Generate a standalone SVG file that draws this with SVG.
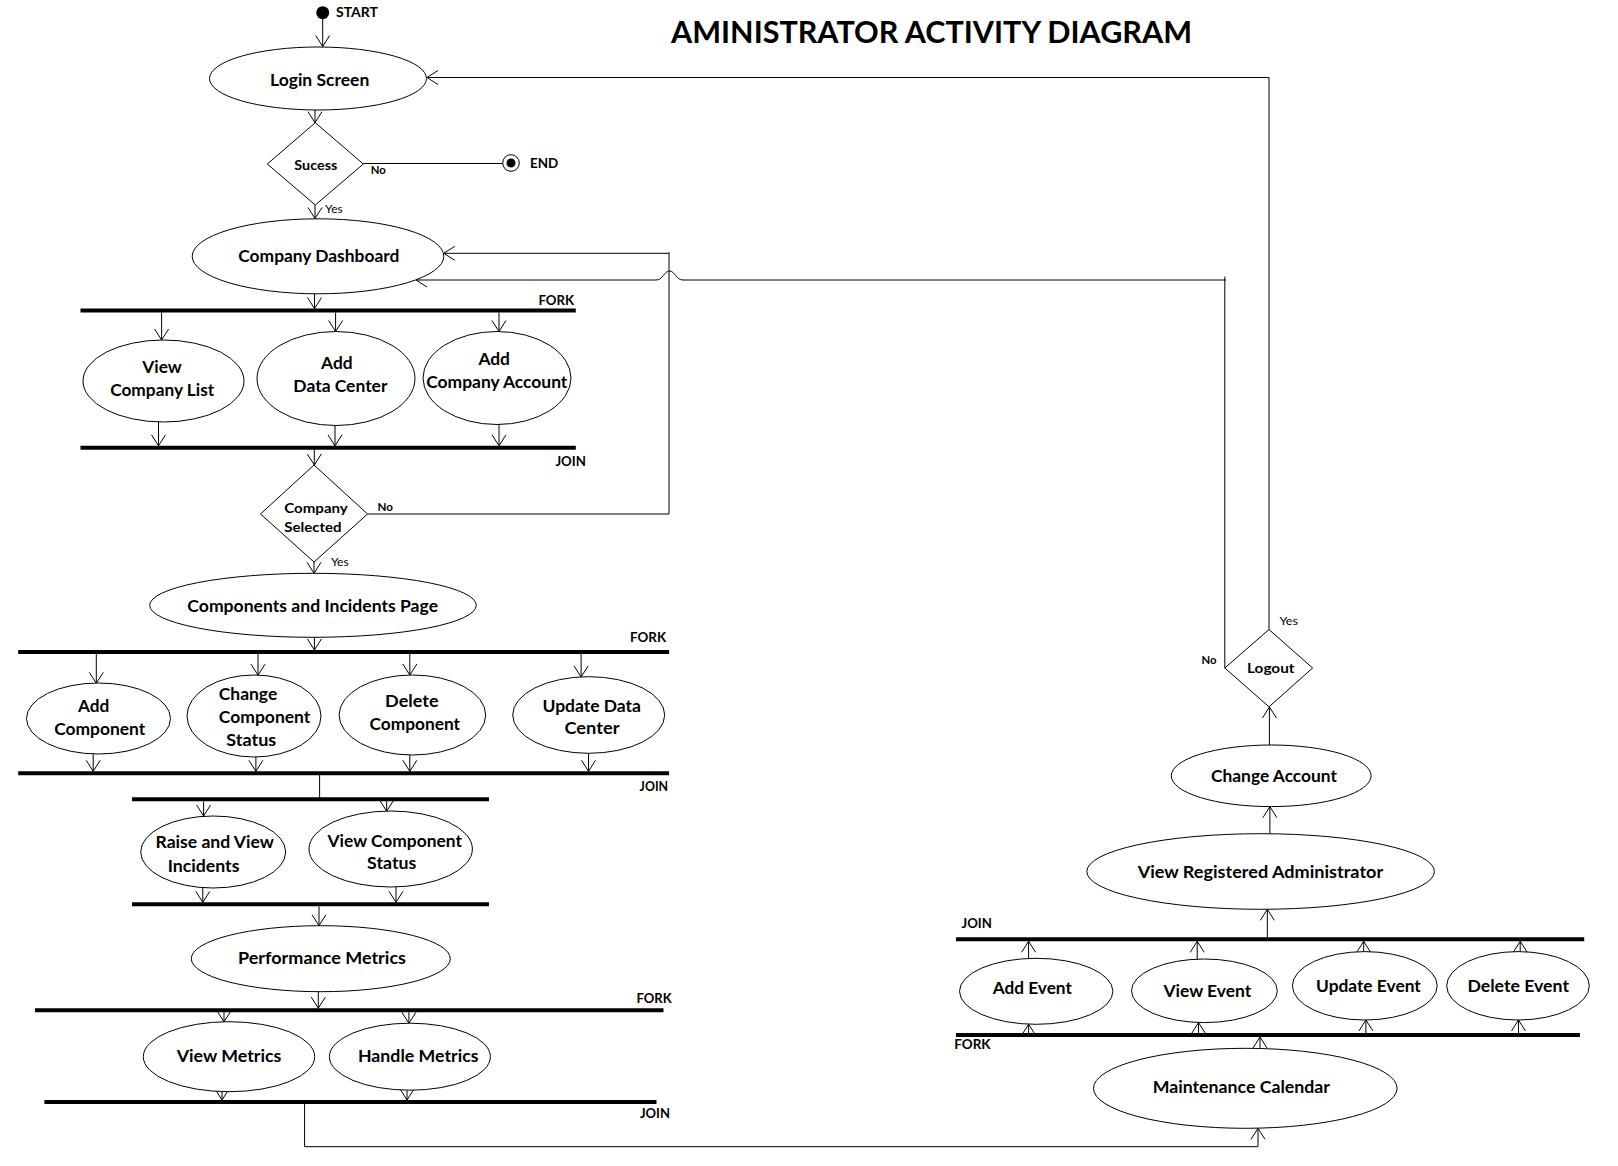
<svg xmlns="http://www.w3.org/2000/svg" width="1618" height="1166" viewBox="0 0 1618 1166">
<style>
text{font-family:Lato,"Open Sans","Liberation Sans",sans-serif;font-weight:700;fill:#000}
.l{font-size:17.5px;text-anchor:middle}
.s{font-size:13.5px;text-anchor:middle}
.k{font-size:14px}
.y{font-size:11px;font-weight:400}
.n{font-size:11.5px}
ellipse,polygon{fill:#fff;stroke:#000;stroke-width:1}
.bar{stroke:#000;stroke-width:4}
#connectors path{fill:none;stroke:#000;stroke-width:1}
.a{marker-end:url(#arr)}
</style>
<defs>
<marker id="arr" markerUnits="userSpaceOnUse" markerWidth="14" markerHeight="16" viewBox="0 0 14 16" refX="12" refY="8" orient="auto"><path d="M1,1 L12,8 L1,15" fill="none" stroke="#000" stroke-width="1"/></marker>
</defs>
<rect width="1618" height="1166" fill="#fff"/>
<text x="931.5" y="43" style="font-size:30px;text-anchor:middle" textLength="521" lengthAdjust="spacingAndGlyphs">AMINISTRATOR ACTIVITY DIAGRAM</text>

<g id="connectors">
<path class="a" d="M322.7,19 V46.5"/>
<path class="a" d="M315,110 V122.7"/>
<path d="M363.3,163.5 H502.7"/>
<path class="a" d="M315,205 V218.5"/>
<path class="a" d="M314.5,294 V308.6"/>
<path class="a" d="M161.6,312.6 V340"/>
<path class="a" d="M335.6,312.6 V331.5"/>
<path class="a" d="M499,312.6 V331.5"/>
<path class="a" d="M158.5,421.5 V445.8"/>
<path class="a" d="M335,425.5 V445.8"/>
<path class="a" d="M499,424.5 V445.8"/>
<path class="a" d="M314.3,449.8 V465"/>
<path class="a" d="M367.6,514 H669 V252.3 M669,253.3 H443.8"/>
<path class="a" d="M314,562 V573.3"/>
<path class="a" d="M314.4,637.3 V650"/>
<path class="a" d="M96.3,654 V683.3"/>
<path class="a" d="M258,654 V675.2"/>
<path class="a" d="M409.8,654 V675"/>
<path class="a" d="M581.1,654 V677"/>
<path class="a" d="M93.2,753.8 V771.3"/>
<path class="a" d="M255.9,756.8 V771.3"/>
<path class="a" d="M409.8,755 V771.3"/>
<path class="a" d="M588.5,753.3 V771.3"/>
<path d="M319.6,775 V797.5"/>
<path class="a" d="M203.6,801.3 V816"/>
<path class="a" d="M386.7,801.3 V811.2"/>
<path class="a" d="M202.8,888 V902.3"/>
<path class="a" d="M396,886.8 V902.3"/>
<path class="a" d="M319,906.3 V925.7"/>
<path class="a" d="M318.3,991.7 V1008.2"/>
<path class="a" d="M224,1012.2 V1021.8"/>
<path class="a" d="M408.9,1012.2 V1023.3"/>
<path class="a" d="M222,1091.6 V1100"/>
<path class="a" d="M407,1090.2 V1100"/>
<path class="a" d="M304.6,1104 V1146.7 H1258 V1128.3"/>
<path class="a" d="M1260,1048.3 V1037"/>
<path class="a" d="M1028.6,1033 V1024.3"/>
<path class="a" d="M1198.5,1033 V1022.6"/>
<path class="a" d="M1365.9,1033 V1020"/>
<path class="a" d="M1518.5,1033 V1020"/>
<path class="a" d="M1028.6,958.3 V941.3"/>
<path class="a" d="M1197.2,959 V941.3"/>
<path class="a" d="M1363.7,951.6 V941.3"/>
<path class="a" d="M1520.2,951.6 V941.3"/>
<path class="a" d="M1267.3,937.3 V909.3"/>
<path class="a" d="M1269.9,833.6 V806.7"/>
<path class="a" d="M1269.4,745 V707"/>
<path class="a" d="M1269,629.5 V77.5 H427"/>
<path class="a" d="M1224.8,668 V276.5 M1226,280 H683 C676,280 675,271 669.5,271 C664,271 663,280 656,280 H416"/>
</g>

<g id="start"><circle cx="322.7" cy="12.7" r="6.5" fill="#000"/><text class="k" x="336" y="17.3" textLength="42" lengthAdjust="spacingAndGlyphs">START</text></g>
<g id="end"><circle cx="511" cy="163" r="8.3" fill="#fff" stroke="#000"/><circle cx="511" cy="163" r="4.5" fill="#000"/><text class="k" x="530" y="167.7" textLength="28.3" lengthAdjust="spacingAndGlyphs">END</text></g>

<g id="login"><ellipse cx="318" cy="78.5" rx="108.5" ry="31.5"/><text class="l" x="319.7" y="86" textLength="99.3" lengthAdjust="spacingAndGlyphs">Login Screen</text></g>
<g id="sucess"><polygon points="315.3,122.7 363.3,164 315.3,205 267.3,164"/><text class="s" x="315.8" y="170" textLength="43" lengthAdjust="spacingAndGlyphs">Sucess</text>
<text class="n" x="370.7" y="174" textLength="15" lengthAdjust="spacingAndGlyphs">No</text><text class="y" x="325" y="213.3" textLength="17.7" lengthAdjust="spacingAndGlyphs">Yes</text></g>
<g id="dashboard"><ellipse cx="318" cy="256.3" rx="125.8" ry="37.5"/><text class="l" x="318.8" y="261.7" textLength="161" lengthAdjust="spacingAndGlyphs">Company Dashboard</text></g>

<g id="fork1"><line class="bar" x1="80.5" y1="310.6" x2="575.8" y2="310.6"/><text class="k" x="538.4" y="305" textLength="35.6" lengthAdjust="spacingAndGlyphs">FORK</text></g>
<g id="viewCompanyList"><ellipse cx="163.5" cy="381" rx="80.5" ry="41"/><text class="l" x="162" y="373.3" textLength="39.5" lengthAdjust="spacingAndGlyphs">View</text><text class="l" x="162.2" y="396" textLength="104" lengthAdjust="spacingAndGlyphs">Company List</text></g>
<g id="addDataCenter"><ellipse cx="336" cy="378.5" rx="79" ry="47"/><text class="l" x="336.8" y="368.7" textLength="31.6" lengthAdjust="spacingAndGlyphs">Add</text><text class="l" x="340.4" y="391.7" textLength="94.1" lengthAdjust="spacingAndGlyphs">Data Center</text></g>
<g id="addCompanyAccount"><ellipse cx="497" cy="378" rx="74" ry="46.5"/><text class="l" x="494.2" y="365" textLength="31.6" lengthAdjust="spacingAndGlyphs">Add</text><text class="l" x="496.8" y="387.7" textLength="141.1" lengthAdjust="spacingAndGlyphs">Company Account</text></g>
<g id="join1"><line class="bar" x1="80.5" y1="447.8" x2="575.8" y2="447.8"/><text class="k" x="555.4" y="466" textLength="30.5" lengthAdjust="spacingAndGlyphs">JOIN</text></g>

<g id="companySelected"><polygon points="314,465 367.6,514 314,562 260.5,514"/><text class="s" x="316" y="513.3" textLength="63.7" lengthAdjust="spacingAndGlyphs">Company</text><text class="s" x="312.9" y="531.7" textLength="57.3" lengthAdjust="spacingAndGlyphs">Selected</text>
<text class="n" x="377.5" y="510.7" textLength="15.4" lengthAdjust="spacingAndGlyphs">No</text><text class="y" x="330.9" y="566" textLength="17.8" lengthAdjust="spacingAndGlyphs">Yes</text></g>
<g id="componentsPage"><ellipse cx="313" cy="605.3" rx="163.3" ry="32"/><text class="l" x="312.7" y="611.7" textLength="250.7" lengthAdjust="spacingAndGlyphs">Components and Incidents Page</text></g>

<g id="fork2"><line class="bar" x1="18.2" y1="652" x2="669.1" y2="652"/><text class="k" x="630.1" y="641.7" textLength="36" lengthAdjust="spacingAndGlyphs">FORK</text></g>
<g id="addComponent"><ellipse cx="98.5" cy="718.5" rx="72" ry="35.5"/><text class="l" x="93.7" y="711.7" textLength="31.3" lengthAdjust="spacingAndGlyphs">Add</text><text class="l" x="99.7" y="735" textLength="91" lengthAdjust="spacingAndGlyphs">Component</text></g>
<g id="changeComponentStatus"><ellipse cx="254" cy="716" rx="67" ry="41"/><text class="l" x="248" y="700" textLength="58.5" lengthAdjust="spacingAndGlyphs">Change</text><text class="l" x="264.6" y="722.7" textLength="91.5" lengthAdjust="spacingAndGlyphs">Component</text><text class="l" x="251.3" y="745.7" textLength="50" lengthAdjust="spacingAndGlyphs">Status</text></g>
<g id="deleteComponent"><ellipse cx="412.4" cy="715" rx="73.3" ry="40"/><text class="l" x="411.8" y="707.3" textLength="53.4" lengthAdjust="spacingAndGlyphs">Delete</text><text class="l" x="414.8" y="730" textLength="90.5" lengthAdjust="spacingAndGlyphs">Component</text></g>
<g id="updateDataCenter"><ellipse cx="588.7" cy="715" rx="76" ry="38.3"/><text class="l" x="591.7" y="711.7" textLength="98.5" lengthAdjust="spacingAndGlyphs">Update Data</text><text class="l" x="592" y="734" textLength="55" lengthAdjust="spacingAndGlyphs">Center</text></g>
<g id="join2"><line class="bar" x1="18.2" y1="773.3" x2="669.1" y2="773.3"/><text class="k" x="639.6" y="791" textLength="28.5" lengthAdjust="spacingAndGlyphs">JOIN</text></g>

<g id="fork3"><line class="bar" x1="132" y1="799.3" x2="489" y2="799.3"/></g>
<g id="raiseViewIncidents"><ellipse cx="213.2" cy="852" rx="72.5" ry="36"/><text class="l" x="214.7" y="848.3" textLength="118.4" lengthAdjust="spacingAndGlyphs">Raise and View</text><text class="l" x="203.6" y="871.7" textLength="71.8" lengthAdjust="spacingAndGlyphs">Incidents</text></g>
<g id="viewComponentStatus"><ellipse cx="390.7" cy="849" rx="81.7" ry="38"/><text class="l" x="394.7" y="846.7" textLength="134.3" lengthAdjust="spacingAndGlyphs">View Component</text><text class="l" x="391.7" y="869.3" textLength="49.2" lengthAdjust="spacingAndGlyphs">Status</text></g>
<g id="join3"><line class="bar" x1="132" y1="904.3" x2="489" y2="904.3"/></g>

<g id="performanceMetrics"><ellipse cx="320.8" cy="958.7" rx="129.5" ry="33"/><text class="l" x="322" y="964" textLength="168" lengthAdjust="spacingAndGlyphs">Performance Metrics</text></g>
<g id="fork4"><line class="bar" x1="35" y1="1010.2" x2="663.5" y2="1010.2"/><text class="k" x="636.4" y="1002.7" textLength="35.2" lengthAdjust="spacingAndGlyphs">FORK</text></g>
<g id="viewMetrics"><ellipse cx="229" cy="1056.7" rx="85.7" ry="35"/><text class="l" x="229" y="1061.7" textLength="104.7" lengthAdjust="spacingAndGlyphs">View Metrics</text></g>
<g id="handleMetrics"><ellipse cx="409.9" cy="1056.7" rx="80.5" ry="33.5"/><text class="l" x="418.2" y="1061.7" textLength="120.6" lengthAdjust="spacingAndGlyphs">Handle Metrics</text></g>
<g id="join4"><line class="bar" x1="44.4" y1="1102" x2="656.5" y2="1102"/><text class="k" x="640" y="1118.3" textLength="30" lengthAdjust="spacingAndGlyphs">JOIN</text></g>

<g id="maintenanceCalendar"><ellipse cx="1245.3" cy="1088.3" rx="151.8" ry="40"/><text class="l" x="1241.3" y="1093.3" textLength="177.3" lengthAdjust="spacingAndGlyphs">Maintenance Calendar</text></g>
<g id="fork5"><line class="bar" x1="956" y1="1035" x2="1579.9" y2="1035"/><text class="k" x="954.3" y="1049.3" textLength="36.3" lengthAdjust="spacingAndGlyphs">FORK</text></g>
<g id="addEvent"><ellipse cx="1036.2" cy="991.3" rx="76.7" ry="33"/><text class="l" x="1032.3" y="994.3" textLength="79.1" lengthAdjust="spacingAndGlyphs">Add Event</text></g>
<g id="viewEvent"><ellipse cx="1204.4" cy="990.8" rx="72.9" ry="31.8"/><text class="l" x="1207.4" y="996.7" textLength="87.8" lengthAdjust="spacingAndGlyphs">View Event</text></g>
<g id="updateEvent"><ellipse cx="1364.8" cy="985.8" rx="72.4" ry="34.2"/><text class="l" x="1368.4" y="991.7" textLength="104.7" lengthAdjust="spacingAndGlyphs">Update Event</text></g>
<g id="deleteEvent"><ellipse cx="1518" cy="985.8" rx="71.3" ry="34.2"/><text class="l" x="1518.2" y="991.7" textLength="101.6" lengthAdjust="spacingAndGlyphs">Delete Event</text></g>
<g id="join5"><line class="bar" x1="956" y1="939.3" x2="1584.2" y2="939.3"/><text class="k" x="961.6" y="927.7" textLength="30.3" lengthAdjust="spacingAndGlyphs">JOIN</text></g>
<g id="viewRegisteredAdministrator"><ellipse cx="1260.6" cy="871.5" rx="173.8" ry="37.8"/><text class="l" x="1260.4" y="878.3" textLength="245.5" lengthAdjust="spacingAndGlyphs">View Registered Administrator</text></g>
<g id="changeAccount"><ellipse cx="1271.2" cy="775.8" rx="99.9" ry="30.8"/><text class="l" x="1274" y="781.7" textLength="125.9" lengthAdjust="spacingAndGlyphs">Change Account</text></g>
<g id="logout"><polygon points="1269,629.5 1312.6,668 1269,706.8 1224.8,668"/><text class="s" x="1270.8" y="673.3" textLength="47.5" lengthAdjust="spacingAndGlyphs">Logout</text>
<text class="y" x="1279.4" y="625" textLength="18.6" lengthAdjust="spacingAndGlyphs">Yes</text><text class="n" x="1201.6" y="664" textLength="15" lengthAdjust="spacingAndGlyphs">No</text></g>
</svg>
